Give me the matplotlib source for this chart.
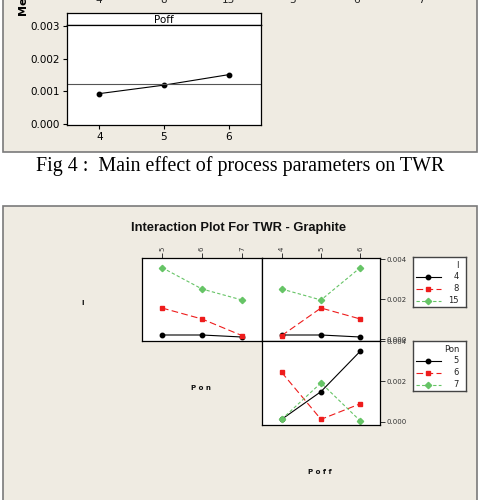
#!/usr/bin/env python

import matplotlib
matplotlib.use("Agg")
import matplotlib.pyplot as plt
from matplotlib.patches import Rectangle

W, H = 480, 500
BEIGE = "#efebe2"
EDGE = "#7a7a7a"
RED = "#ee1c1c"
GREEN = "#66c466"

# main effect (bottom row of the cut-off figure)
poff_levels = [4, 5, 6]
poff_means = [0.00093, 0.00119, 0.00151]
grand_mean = 0.00121
cut_top_labels = ["4", "8", "15", "5", "6", "7"]

# interaction plot
pon_levels = [5, 6, 7]
i_levels = ["4", "8", "15"]
pon_names = ["5", "6", "7"]
twr_i_by_pon = [
    [0.0002, 0.0002, 0.0001],
    [0.00155, 0.0010, 0.00017],
    [0.00357, 0.0025, 0.00195],
]
twr_i_by_poff = [
    [0.0002, 0.0002, 0.0001],
    [0.00017, 0.00155, 0.0010],
    [0.0025, 0.00195, 0.00357],
]
twr_pon_by_poff = [
    [0.00013, 0.0015, 0.0035],
    [0.00245, 0.00013, 0.0009],
    [0.00013, 0.00193, 0.00005],
]

styles = [
    dict(color="black", marker="o", ms=3.2, dashes=()),
    dict(color=RED, marker="s", ms=3.2, dashes=(6, 3)),
    dict(color=GREEN, marker="D", ms=3.2, dashes=(3, 2)),
]


def px(x0, y0, x1, y1):
    return [x0 / W, 1 - y1 / H, (x1 - x0) / W, (y1 - y0) / H]


def fx(x):
    return x / W


def fy(y):
    return 1 - y / H


def draw_line(ax, x, y, st, markevery=None):
    kw = dict(color=st["color"], marker=st["marker"], ms=st["ms"], lw=0.8,
              mfc=st["color"], mec=st["color"], markevery=markevery)
    if st["dashes"]:
        ln, = ax.plot(x, y, ls="--", dashes=st["dashes"], **kw)
    else:
        ln, = ax.plot(x, y, ls="-", **kw)
    return ln


def beige_box(fig, x0, y0, x1, y1):
    b = px(x0, y0, x1, y1)
    fig.add_artist(Rectangle((b[0], b[1]), b[2], b[3], transform=fig.transFigure,
                             facecolor=BEIGE, edgecolor=EDGE, lw=1.2, zorder=0))


def main_effect(fig):
    beige_box(fig, 2.5, -10, 477, 152)
    for lab, x in zip(cut_top_labels, [99, 163.5, 228, 292.5, 357, 421.5]):
        fig.text(fx(x), fy(0), lab, ha="center", va="center", fontsize=7.5, color="#222")
    fig.text(fx(23), fy(15), "Mean", rotation=90, ha="center", va="bottom",
             fontsize=8, fontweight="bold")

    strip = fig.add_axes(px(67, 13, 261, 25))
    strip.set_xticks([]); strip.set_yticks([])
    strip.text(0.5, 0.45, "Poff", ha="center", va="center", fontsize=7.5,
               transform=strip.transAxes)

    ax = fig.add_axes(px(67, 25, 261, 125))
    ax.plot(poff_levels, poff_means, color="black", lw=0.8, marker="o", ms=3.2)
    ax.axhline(grand_mean, color="#555", lw=0.8)
    ax.set_xlim(3.5, 6.5)
    ax.set_ylim(-0.0000306, 0.00303)
    ax.set_xticks(poff_levels)
    ax.set_yticks([0.0, 0.001, 0.002, 0.003])
    ax.set_yticklabels(["0.000", "0.001", "0.002", "0.003"])
    ax.tick_params(labelsize=7.5, length=3, width=0.8, pad=2)
    for s in list(ax.spines.values()) + list(strip.spines.values()):
        s.set_linewidth(0.9)

    fig.text(fx(240.5), fy(166), "Fig 4 :  Main effect of process parameters on TWR",
             ha="center", va="center", fontsize=14.4, family="Liberation Serif")


def panel(fig, rect, xlim, ylim, top_ticks=None, right_ticks=True):
    ax = fig.add_axes(rect)
    ax.set_xlim(*xlim)
    ax.set_ylim(*ylim)
    if top_ticks:
        ax.set_xticks(top_ticks)
        ax.xaxis.tick_top()
        ax.tick_params(axis="x", labelrotation=90)
    else:
        ax.set_xticks([])
    if right_ticks:
        ax.yaxis.tick_right()
        ax.set_yticks([0.0, 0.002, 0.004])
        ax.set_yticklabels(["0.000", "0.002", "0.004"])
    else:
        ax.set_yticks([])
    ax.tick_params(labelsize=5, length=3.5, width=0.7, pad=1.5, colors="#333")
    for s in ax.spines.values():
        s.set_linewidth(0.9)
    return ax


def legend_box(fig, rect, title, names):
    lg = fig.add_axes(rect)
    lg.set_xlim(0, 53)
    lg.set_ylim(50, 0)
    lg.set_xticks([]); lg.set_yticks([])
    for s in lg.spines.values():
        s.set_linewidth(1.0)
        s.set_color("#444")
    lg.text(46, 8, title, ha="right", va="center", fontsize=6, color="#222")
    for k, (name, st) in enumerate(zip(names, styles)):
        y = 19.5 + k * 12
        draw_line(lg, [3, 15, 28], [y, y, y], st, markevery=[1])
        lg.text(46, y, name, ha="right", va="center", fontsize=6, color="#222")


def interaction(fig):
    beige_box(fig, 2.5, 206, 477, 510)
    fig.text(fx(131), fy(228), "Interaction Plot For TWR - Graphite", ha="left",
             va="center", fontsize=9.3, fontweight="bold", family="Liberation Sans",
             color="#111")

    ylim_top = (-0.0001, 0.00405)
    ul = panel(fig, px(142, 258, 262, 341), (4.5, 7.5), ylim_top,
               top_ticks=pon_levels, right_ticks=False)
    for vals, st in zip(twr_i_by_pon, styles):
        draw_line(ul, pon_levels, vals, st)

    ur = panel(fig, px(262, 258, 380, 341), (3.5, 6.5), ylim_top,
               top_ticks=poff_levels)
    for vals, st in zip(twr_i_by_poff, styles):
        draw_line(ur, poff_levels, vals, st)

    br = panel(fig, px(262, 341, 380, 425), (3.5, 6.5), (-0.00015, 0.004))
    for vals, st in zip(twr_pon_by_poff, styles):
        draw_line(br, poff_levels, vals, st)

    legend_box(fig, px(413, 257, 466, 307), "I", i_levels)
    legend_box(fig, px(413, 341, 466, 391), "Pon", pon_names)

    lab = dict(fontsize=5, fontweight="bold", ha="center", va="center", color="#111")
    fig.text(fx(83), fy(303), "I", **lab)
    fig.text(fx(201), fy(388), "P o n", **lab)
    fig.text(fx(320), fy(472), "P o f f", **lab)


def main():
    fig = plt.figure(figsize=(W / 100, H / 100), dpi=100)
    fig.patch.set_facecolor("white")
    main_effect(fig)
    interaction(fig)
    fig.savefig("out.png", dpi=100)
    plt.close(fig)


if __name__ == "__main__":
    main()
